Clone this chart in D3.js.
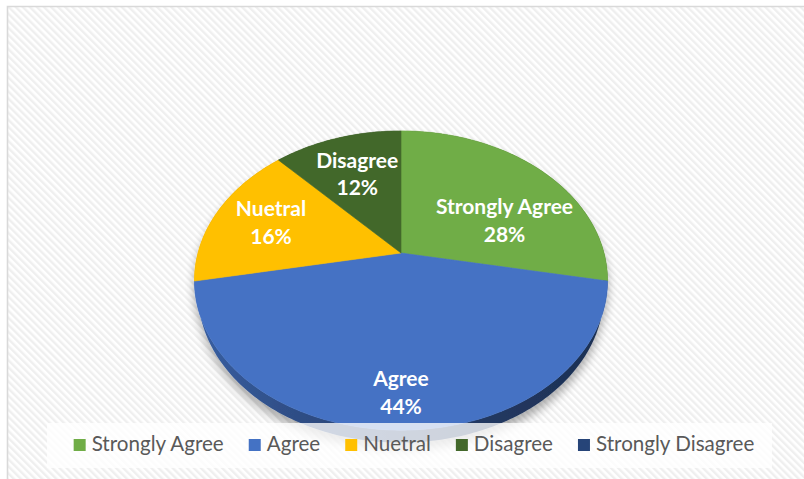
<!DOCTYPE html>
<html>
<head>
<meta charset="utf-8">
<script src="https://cdn.jsdelivr.net/npm/d3@7"></script>
<style>
  html, body { margin: 0; padding: 0; background: #ffffff; }
  svg { display: block; }
</style>
</head>
<body>
<svg id="chart" width="804" height="479"></svg>
<script>
// Survey responses
const categories = ["Strongly Agree", "Agree", "Nuetral", "Disagree", "Strongly Disagree"];
const shares = [28, 44, 16, 12, 0];
const sliceColors = ["#70ad47", "#4472c4", "#ffc000", "#43682b", "#264478"];

// Label placement inside each slice: angular shift (deg) from the slice middle, radius fraction
const labelPlacement = [
  { dA: 16, r: 0.58 },
  { dA: 0, r: 0.82 },
  { dA: 0, r: 0.70 },
  { dA: 0, r: 0.65 },
  { dA: 0, r: 0.70 }
];

const W = 804, H = 479;
const svg = d3.select("#chart");
const defs = svg.append("defs");

// Diagonal hatch for the chart area
const pat = defs.append("pattern")
  .attr("id", "hatch")
  .attr("patternUnits", "userSpaceOnUse")
  .attr("width", 5).attr("height", 5)
  .attr("patternTransform", "rotate(-45)");
pat.append("rect").attr("width", 5).attr("height", 5).attr("fill", "#ffffff");
pat.append("rect").attr("width", 2.4).attr("height", 5).attr("fill", "#efefef");

// Soft drop shadow under the pie
const flt = defs.append("filter").attr("id", "pieShadow")
  .attr("x", "-20%").attr("y", "-20%").attr("width", "140%").attr("height", "160%");
flt.append("feGaussianBlur").attr("in", "SourceAlpha").attr("stdDeviation", 5).attr("result", "blur");
flt.append("feOffset").attr("in", "blur").attr("dy", 7).attr("result", "off");
flt.append("feComponentTransfer").attr("in", "off").attr("result", "shade")
  .append("feFuncA").attr("type", "linear").attr("slope", 0.32);
const merge = flt.append("feMerge");
merge.append("feMergeNode").attr("in", "shade");
merge.append("feMergeNode").attr("in", "SourceGraphic");

// Background and frame
svg.append("rect").attr("x", 7).attr("y", 6).attr("width", W - 7).attr("height", H - 6)
  .attr("fill", "url(#hatch)");
svg.append("path").attr("d", `M7.5,${H} V6.5 H${W}`)
  .attr("fill", "none").attr("stroke", "#d9d9d9").attr("stroke-width", 1.6);

// Perspective camera for the tilted pie (unit radius)
const cam = { cx: 401, cy: 253, focal: 775, dist: 3.817, tilt: Math.asin(0.712), depth: 0.095 };
function project(theta, r, y) {
  const X = r * Math.sin(theta), Z = r * Math.cos(theta);
  const v = Z * Math.sin(cam.tilt) + y * Math.cos(cam.tilt);
  const w = Z * Math.cos(cam.tilt) - y * Math.sin(cam.tilt);
  const s = cam.focal / (cam.dist + w);
  return [cam.cx + X * s, cam.cy - v * s];
}
function arcPoints(a0, a1, r, y) {
  const n = Math.max(2, Math.ceil((a1 - a0) / (Math.PI / 180)));
  return d3.range(n + 1).map(i => project(a0 + (a1 - a0) * i / n, r, y));
}

const pie = d3.pie().sort(null).value(d => d).startAngle(0).endAngle(2 * Math.PI);
const arcs = pie(shares).map((a, i) => ({ ...a, i }));
const visible = arcs.filter(a => a.value > 0);

const line = d3.line();
const xLeft = project(-Math.PI / 2, 1, 0)[0], xRight = project(Math.PI / 2, 1, 0)[0];

// Side-wall gradients
visible.forEach(a => {
  const base = d3.color(sliceColors[a.i]);
  const g = defs.append("linearGradient").attr("id", "wall" + a.i)
    .attr("gradientUnits", "userSpaceOnUse")
    .attr("x1", xLeft).attr("x2", xRight).attr("y1", 0).attr("y2", 0);
  [[0, 0.55], [0.2, 1.0], [0.65, 1.9], [1, 2.4]].forEach(([o, k]) => {
    g.append("stop").attr("offset", o).attr("stop-color", base.darker(k).formatHex());
  });
});

const pieG = svg.append("g").attr("filter", "url(#pieShadow)");

// Outer walls
pieG.selectAll("path.wall").data(visible).join("path")
  .attr("class", "wall")
  .attr("d", a => {
    const top = arcPoints(a.startAngle, a.endAngle, 1, 0);
    const bot = arcPoints(a.startAngle, a.endAngle, 1, -cam.depth).reverse();
    return line(top.concat(bot)) + "Z";
  })
  .attr("fill", a => `url(#wall${a.i})`);

// Top faces
pieG.selectAll("path.face").data(visible).join("path")
  .attr("class", "face")
  .attr("d", a => line([project(0, 0, 0)].concat(arcPoints(a.startAngle, a.endAngle, 1, 0))) + "Z")
  .attr("fill", a => sliceColors[a.i])
  .attr("stroke", a => sliceColors[a.i])
  .attr("stroke-width", 0.6);

// Data labels
const labelFont = "Lato, 'Open Sans', sans-serif";
const labels = svg.append("g").attr("font-family", labelFont).attr("font-weight", 700)
  .attr("font-size", 21).attr("fill", "#ffffff").attr("text-anchor", "middle");
visible.forEach(a => {
  const p = labelPlacement[a.i];
  const mid = (a.startAngle + a.endAngle) / 2 + p.dA * Math.PI / 180;
  const [lx, ly] = project(mid, p.r, 0);
  const t = labels.append("text");
  t.append("tspan").attr("x", lx).attr("y", ly - 6.5).text(categories[a.i]);
  t.append("tspan").attr("x", lx).attr("y", ly + 21).text(Math.round(a.value) + "%");
});

// Legend
const legendBox = { x: 47, y: 423, w: 725, h: 45 };
svg.append("rect").attr("x", legendBox.x).attr("y", legendBox.y)
  .attr("width", legendBox.w).attr("height", legendBox.h)
  .attr("fill", "#ffffff").attr("fill-opacity", 0.78);

const legend = svg.append("g").attr("font-family", labelFont).attr("font-size", 20.6).attr("fill", "#595959");
const items = legend.selectAll("g").data(categories).join("g");
items.append("rect").attr("width", 12).attr("height", 12).attr("y", -12)
  .attr("fill", (d, i) => sliceColors[i]);
items.append("text").attr("x", 18).attr("y", 0).text(d => d);
let xPos = 0;
const gap = 25;
items.each(function () {
  const g = d3.select(this);
  g.attr("transform", `translate(${xPos},0)`);
  xPos += 18 + g.select("text").node().getComputedTextLength() + gap;
});
const totalW = xPos - gap;
const legendX0 = legendBox.x + legendBox.w / 2 + 4.5 - totalW / 2;
legend.attr("transform", `translate(${legendX0},451)`);
</script>
</body>
</html>
